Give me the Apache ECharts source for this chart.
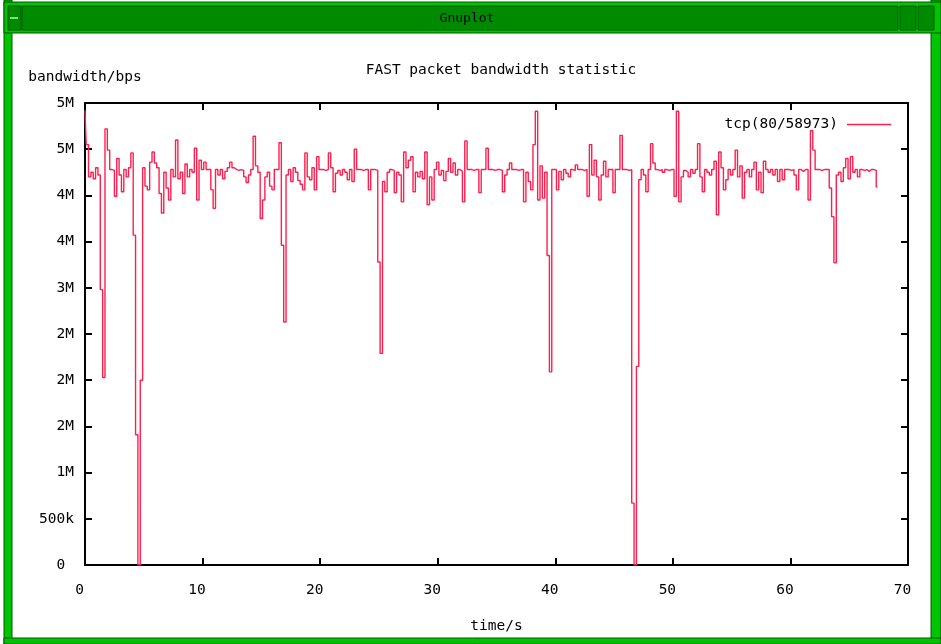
<!DOCTYPE html>
<html>
<head>
<meta charset="utf-8">
<title>FAST packet bandwidth statistic</title>
<script src="https://cdn.jsdelivr.net/npm/echarts@6/dist/echarts.min.js"></script>
<style>
  html, body { margin: 0; padding: 0; background: #ffffff; }
  #main { width: 941px; height: 644px; }
</style>
</head>
<body>
<div id="main"></div>
<script>
// Sampling step of the capture, seconds
const sampleStep = 0.2;

// Measured bandwidth per sample, in Mbit/s (one row = 2 seconds)
const bandwidthMbps = [
  4.92, 4.55, 4.20, 4.25, 4.18, 4.30, 4.22, 2.98, 2.03, 4.72,
  4.49, 4.28, 4.27, 3.99, 4.40, 4.22, 4.04, 4.28, 4.20, 4.30,
  4.46, 3.57, 1.41, 0.00, 2.00, 4.30, 4.10, 4.06, 4.36, 4.47,
  4.35, 4.30, 4.02, 3.81, 4.25, 4.08, 3.95, 4.28, 4.20, 4.60,
  4.18, 4.25, 4.02, 4.34, 4.20, 4.28, 4.25, 4.51, 3.95, 4.38,
  4.28, 4.36, 4.28, 4.28, 4.06, 3.86, 4.28, 4.22, 4.28, 4.18,
  4.26, 4.30, 4.36, 4.30, 4.28, 4.27, 4.28, 4.27, 4.20, 4.14,
  4.22, 4.28, 4.64, 4.32, 4.25, 3.75, 3.95, 4.20, 4.25, 4.10,
  4.06, 4.28, 4.28, 4.57, 3.46, 2.63, 4.22, 4.28, 4.15, 4.30,
  4.25, 4.16, 4.12, 4.06, 4.46, 4.20, 4.17, 4.30, 4.06, 4.42,
  4.28, 4.28, 4.27, 4.28, 4.46, 4.30, 4.04, 4.24, 4.27, 4.22,
  4.28, 4.25, 4.17, 4.28, 4.15, 4.50, 4.28, 4.28, 4.27, 4.28,
  4.28, 4.06, 4.28, 4.28, 4.27, 3.28, 2.29, 4.15, 4.04, 4.25,
  4.28, 4.27, 4.03, 4.25, 4.22, 3.93, 4.47, 4.30, 4.38, 4.42,
  4.04, 4.25, 4.20, 4.26, 4.18, 4.47, 3.90, 4.20, 3.95, 4.28,
  4.36, 4.22, 4.27, 4.16, 4.26, 4.40, 4.25, 4.35, 4.22, 4.28,
  4.26, 3.93, 4.59, 4.28, 4.28, 4.27, 4.28, 4.28, 4.03, 4.28,
  4.28, 4.51, 4.28, 4.28, 4.27, 4.28, 4.28, 4.27, 4.04, 4.22,
  4.28, 4.35, 4.28, 4.28, 4.27, 4.28, 4.28, 3.93, 4.25, 4.15,
  4.06, 4.55, 4.91, 3.95, 4.32, 3.97, 4.25, 3.35, 2.09, 4.28,
  4.28, 4.06, 4.26, 4.17, 4.28, 4.24, 4.20, 4.28, 4.27, 4.33,
  4.28, 4.28, 4.27, 4.28, 3.99, 4.55, 4.22, 4.38, 4.20, 3.95,
  4.22, 4.37, 4.20, 4.28, 4.28, 4.03, 4.28, 4.28, 4.65, 4.28,
  4.28, 4.27, 4.28, 0.67, 0.00, 2.15, 4.17, 4.28, 4.22, 4.04,
  4.28, 4.56, 4.35, 4.28, 4.27, 4.28, 4.25, 4.28, 4.27, 4.28,
  4.28, 3.99, 4.91, 3.93, 4.20, 4.27, 4.25, 4.20, 4.28, 4.24,
  4.28, 4.56, 4.20, 4.04, 4.28, 4.25, 4.22, 4.28, 4.37, 3.79,
  4.47, 4.30, 4.06, 4.17, 4.28, 4.22, 4.28, 4.49, 4.20, 4.32,
  3.97, 4.25, 4.28, 4.20, 4.28, 4.36, 4.06, 4.25, 4.03, 4.37,
  4.28, 4.25, 4.28, 4.22, 4.28, 4.15, 4.28, 4.17, 4.28, 4.28,
  4.27, 4.28, 4.22, 4.06, 4.28, 4.26, 4.28, 4.28, 3.95, 4.70,
  4.49, 4.28, 4.28, 4.27, 4.28, 4.28, 4.28, 4.08, 3.77, 3.27,
  4.22, 4.25, 4.15, 4.30, 4.40, 4.18, 4.42, 4.25, 4.28, 4.20,
  4.28, 4.27, 4.28, 4.26, 4.28, 4.28, 4.27, 4.09
];

// Y tick labels as printed by the plotting program (%.0s%c style, 0.5M step)
const yTickLabels = ['0 ', '500k', '1M', '2M', '2M', '2M', '3M', '4M', '4M', '5M', '5M'];
const yTickStep = 500000;

const xTickStep = 10;
const xMax = 70;
const yMax = 5000000;

const seriesName = 'tcp(80/58973)';
const chartTitle = 'FAST packet bandwidth statistic';
const windowTitle = 'Gnuplot';

const lineColor = '#ff1f4f';
const monoFont = '"DejaVu Sans Mono", "Liberation Mono", monospace';

const points = bandwidthMbps.map((v, i) => [+(i * sampleStep).toFixed(1), v * 1e6]);

const chart = echarts.init(document.getElementById('main'), null, { renderer: 'canvas', width: 941, height: 644 });

const axisLineStyle = { color: '#000000', width: 2 };
const tickStyle = { show: true, inside: true, length: 7, lineStyle: { color: '#000000', width: 2 } };

const winGreen = '#00c400';
const winDark = '#008a00';
const winEdge = '#005800';

chart.setOption({
  animation: false,
  backgroundColor: '#ffffff',
  textStyle: { fontFamily: monoFont },
  title: {
    text: chartTitle,
    left: 496,
    top: 58,
    textAlign: 'center',
    textStyle: { fontFamily: monoFont, fontSize: 14.5, fontWeight: 'normal', color: '#000000' }
  },
  legend: {
    data: [seriesName],
    right: 45,
    top: 112,
    align: 'right',
    icon: 'rect',
    itemWidth: 44,
    itemHeight: 1.5,
    textStyle: { fontFamily: monoFont, fontSize: 14.5, color: '#000000', padding: [0, 4, 0, 0] },
    itemStyle: { color: lineColor }
  },
  grid: { left: 85, right: 33, top: 103, bottom: 79, containLabel: false, outerBoundsMode: 'none' },
  xAxis: [
    {
      type: 'value', min: 0, max: xMax, interval: xTickStep, position: 'bottom',
      name: 'time/s', nameLocation: 'middle', nameGap: 54,
      nameTextStyle: { fontFamily: monoFont, fontSize: 14.5, color: '#000000' },
      axisLine: { show: true, onZero: false, lineStyle: axisLineStyle },
      axisTick: tickStyle,
      axisLabel: { fontFamily: monoFont, fontSize: 14.5, color: '#000000', margin: 18, padding: [0, 11, 0, 0] },
      splitLine: { show: false }
    },
    {
      type: 'value', min: 0, max: xMax, interval: xTickStep, position: 'top',
      axisLine: { show: true, onZero: false, lineStyle: axisLineStyle },
      axisTick: tickStyle,
      axisLabel: { show: false },
      splitLine: { show: false }
    }
  ],
  yAxis: [
    {
      type: 'value', min: 0, max: yMax, interval: yTickStep, position: 'left',
      name: 'bandwidth/bps', nameLocation: 'end', nameGap: 18,
      nameTextStyle: { fontFamily: monoFont, fontSize: 14.5, color: '#000000', align: 'center' },
      axisLine: { show: true, onZero: false, lineStyle: axisLineStyle },
      axisTick: tickStyle,
      axisLabel: {
        fontFamily: monoFont, fontSize: 14.5, color: '#000000', margin: 11,
        formatter: v => yTickLabels[Math.round(v / yTickStep)]
      },
      splitLine: { show: false }
    },
    {
      type: 'value', min: 0, max: yMax, interval: yTickStep, position: 'right',
      axisLine: { show: true, onZero: false, lineStyle: axisLineStyle },
      axisTick: tickStyle,
      axisLabel: { show: false },
      splitLine: { show: false }
    }
  ],
  series: [{
    name: seriesName,
    type: 'line',
    xAxisIndex: 0,
    yAxisIndex: 0,
    data: points,
    step: 'middle',
    showSymbol: false,
    symbol: 'none',
    lineStyle: { color: lineColor, width: 1.4 },
    itemStyle: { color: lineColor },
    emphasis: { disabled: true }
  }],
  graphic: [
    // window border: left, right, bottom
    { type: 'rect', silent: true, shape: { x: 4, y: 0, width: 8, height: 644 }, style: { fill: winGreen, stroke: winEdge, lineWidth: 1 } },
    { type: 'rect', silent: true, shape: { x: 931, y: 0, width: 10, height: 644 }, style: { fill: winGreen, stroke: winEdge, lineWidth: 1 } },
    { type: 'rect', silent: true, shape: { x: 4, y: 638, width: 937, height: 6 }, style: { fill: winGreen, stroke: winEdge, lineWidth: 1 } },
    // title bar
    { type: 'rect', silent: true, shape: { x: 4, y: 2, width: 937, height: 31 }, style: { fill: winGreen, stroke: winEdge, lineWidth: 1 } },
    { type: 'rect', silent: true, shape: { x: 22, y: 6, width: 876, height: 24 }, style: { fill: winDark, stroke: winEdge, lineWidth: 1 } },
    // window buttons
    { type: 'rect', silent: true, shape: { x: 8, y: 6, width: 13, height: 24 }, style: { fill: winDark, stroke: winEdge, lineWidth: 1 } },
    { type: 'rect', silent: true, shape: { x: 10, y: 17, width: 8, height: 2 }, style: { fill: '#80e080' } },
    { type: 'rect', silent: true, shape: { x: 900, y: 6, width: 16, height: 24 }, style: { fill: winDark, stroke: winEdge, lineWidth: 1 } },
    { type: 'rect', silent: true, shape: { x: 918, y: 6, width: 16, height: 24 }, style: { fill: winDark, stroke: winEdge, lineWidth: 1 } },
    {
      type: 'text', silent: true, x: 467, y: 19,
      style: { text: windowTitle, fill: '#000000', font: '13px ' + monoFont, textAlign: 'center', textVerticalAlign: 'middle' }
    }
  ]
});
</script>
</body>
</html>
